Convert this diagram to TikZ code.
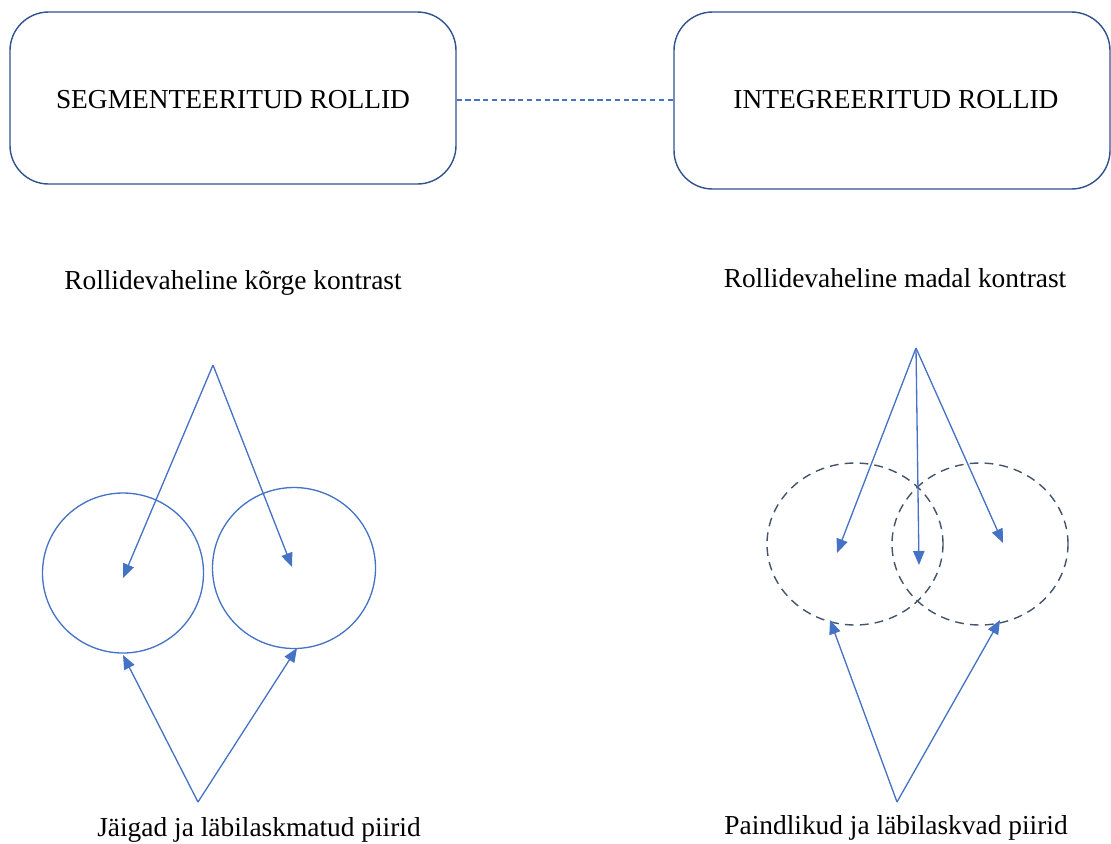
\documentclass[tikz,border=0pt]{standalone}
\usepackage{fontspec}
\setmainfont{Liberation Serif}
\usetikzlibrary{arrows.meta,shapes.geometric}
\definecolor{lineblue}{HTML}{4472C4}
\definecolor{boxblue}{HTML}{2F528F}
\definecolor{dashblue}{HTML}{44546A}
\begin{document}
\begin{tikzpicture}[x=0.02cm,y=-0.02cm,
  rolebox/.style={draw=boxblue,line width=0.8pt,rounded corners=22pt,inner sep=0pt},
  lbl/.style={font=\fontsize{15.6}{18}\selectfont,inner sep=0pt,anchor=center},
  solidring/.style={draw=lineblue,line width=0.75pt,ellipse,inner sep=0pt},
  dashring/.style={draw=dashblue,line width=0.8pt,ellipse,inner sep=0pt,dash pattern=on 5pt off 3.5pt},
  arr/.style={draw=lineblue,line width=0.75pt,-{Triangle[length=8pt,width=6.5pt]}}]
\useasboundingbox (0,0) rectangle (1111,843);
\begin{scope}
\clip (0,0) rectangle (1111,843);
\node[rolebox,minimum width=446*0.02cm,minimum height=172*0.02cm] (segbox) at (233,98) {};
\node[rolebox,minimum width=436*0.02cm,minimum height=177*0.02cm] (intbox) at (892,100.5) {};
\end{scope}
\node[lbl] (segtext) at (233,100) {SEGMENTEERITUD ROLLID};
\node[lbl] (inttext) at (896,100) {INTEGREERITUD ROLLID};
\draw[lineblue,line width=0.7pt,dash pattern=on 3pt off 2pt] (segbox.east |- 0,100) -- (intbox.west |- 0,100);

\node[lbl] (hightext) at (233,283) {Rollidevaheline kõrge kontrast};
\node[lbl] (lowtext) at (895,278) {Rollidevaheline madal kontrast};
\node[lbl] (rigidtext) at (259,830) {Jäigad ja läbilaskmatud piirid};
\node[lbl] (flextext) at (896,828) {Paindlikud ja läbilaskvad piirid};

% left circles
\node[solidring,minimum width=161*0.02cm,minimum height=160*0.02cm] (lc1) at (123,573) {};
\node[solidring,minimum width=163*0.02cm,minimum height=161*0.02cm] (lc2) at (294,568) {};
\coordinate (ltop) at (213,365);
\coordinate (lbot) at (198,802);
\coordinate (lc1in) at (123,578);
\coordinate (lc2in) at (292,567);
\coordinate (lc1b) at (123,655);
\coordinate (lc2b) at (297,648);
\draw[arr] (ltop) -- (lc1in);
\draw[arr] (ltop) -- (lc2in);
\draw[arr] (lbot) -- (lc1b);
\draw[arr] (lbot) -- (lc2b);

% right ellipses
\node[dashring,minimum width=176*0.02cm,minimum height=162*0.02cm] (rc1) at (855,544) {};
\node[dashring,minimum width=176*0.02cm,minimum height=162*0.02cm] (rc2) at (980,544) {};
\coordinate (rtop) at (916,348);
\coordinate (rbot) at (897,802);
\coordinate (rc1in) at (837,553);
\coordinate (rmid) at (919,565);
\coordinate (rc2in) at (1003,543);
\coordinate (rc1b) at (830,620);
\coordinate (rc2b) at (1000,620);
\draw[arr] (rtop) -- (rc1in);
\draw[arr] (rtop) -- (rmid);
\draw[arr] (rtop) -- (rc2in);
\draw[arr] (rbot) -- (rc1b);
\draw[arr] (rbot) -- (rc2b);
\end{tikzpicture}
\end{document}
